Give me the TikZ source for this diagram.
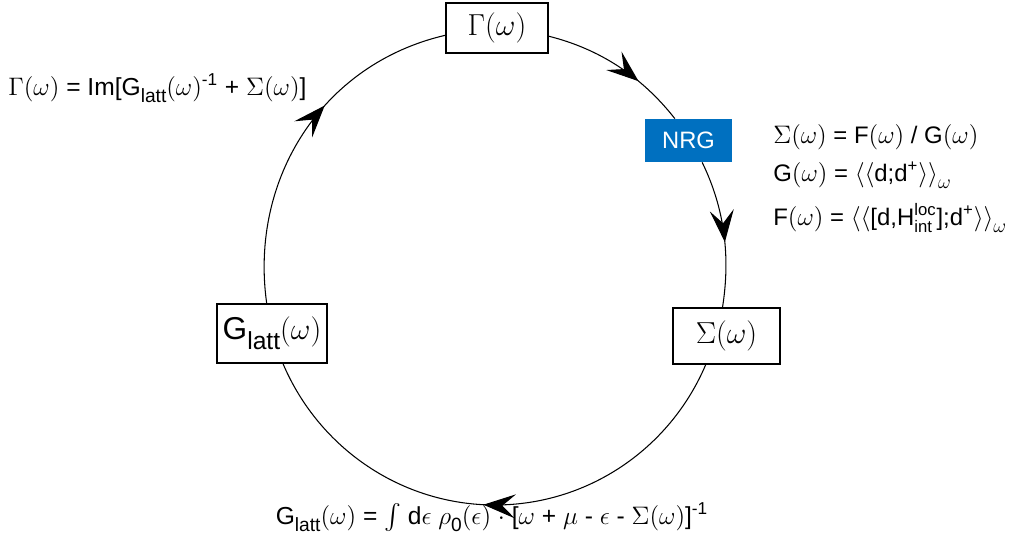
\documentclass[tikz,border=0pt]{standalone}
\usepackage{amsmath}
\usepackage{graphicx}
\usepackage{fontspec}
\setmainfont{Liberation Sans}
\usetikzlibrary{arrows.meta, decorations.markings}
\usepackage{xcolor}
\definecolor{nrgblue}{HTML}{0070C0}
\newcommand{\om}{$(\omega)$}
\newcommand{\lowsub}[1]{\raisebox{-0.32em}{\scalebox{0.78}{#1}}}
\newcommand{\Glatt}{G\lowsub{latt}}

\begin{document}
\begin{tikzpicture}[
      x=0.02cm, y=-0.02cm,
      box/.style={draw, fill=white, line width=0.6pt, inner sep=0pt, font=\fontsize{18}{22}\selectfont},
      eq/.style={inner sep=0pt, font=\fontsize{14}{17}\selectfont},
      flow/.style={line width=0.6pt, postaction={decorate},
        decoration={markings, mark=at position #1 with {\arrow{Stealth[length=6.4mm, width=4.8mm, inset=2.6mm]}}}}
    ]
    \useasboundingbox (0,0) rectangle (1010,551);
    % the four stations of the loop
    \node[box, minimum width=20.4mm, minimum height=10mm] (gamma) at (497,28) {$\Gamma(\omega)$};
    \node[box, minimum width=21.4mm, minimum height=11.2mm] (sigma) at (726.5,336) {$\Sigma(\omega)$};
    \node[box, minimum width=22mm, minimum height=11.8mm] (glatt) at (272,333.5) {\Glatt\om};
    \node[fill=nrgblue, text=white, inner sep=0pt, minimum width=17.4mm, minimum height=8.6mm,
      font=\fontsize{13.5}{16}\selectfont] (nrg) at (688.5,140.5) {NRG};
    \coordinate (bot) at (495,505);
    % the loop
    \draw[flow=0.66] (gamma.-9) to[out=-14, in=128, looseness=0.9] (nrg.122);
    \draw[flow=0.56] (nrg.-58) to[out=-64, in=81, looseness=0.9] (sigma.98);
    \draw[flow=0.52] (sigma.-126) to[out=-113, in=0, looseness=0.93] (bot)
      to[out=180, in=-67, looseness=0.93] (glatt.-70);
    \draw[flow=0.6] (glatt.100) to[out=98, in=-167] (gamma.188);
    % equations
    \node[eq, anchor=base west] (eqgamma) at (8,95)
      {$\Gamma(\omega)$ = Im[\Glatt\om\textsuperscript{-1} + $\Sigma(\omega)$]};
    \node[eq, anchor=base west, font=\fontsize{13.6}{16}\selectfont] (eqsigma) at (773,143)
      {$\Sigma(\omega)$ = F\om{} / G\om};
    \node[eq, anchor=base west, font=\fontsize{13.6}{16}\selectfont] (eqg) at (773,181)
      {G\om{} = $\langle\langle$d;d\textsuperscript{+}$\rangle\rangle$\lowsub{$\omega$}};
    \node[eq, anchor=base west, font=\fontsize{13.6}{16}\selectfont] (eqf) at (773,225)
      {F\om{} = $\langle\langle$[d,H$^{\text{loc}}_{\text{int}}$];d\textsuperscript{+}$\rangle\rangle$\lowsub{$\omega$}};
    \node[eq, anchor=base] (eqglatt) at (492,524)
      {\Glatt\om{} = $\int$ d$\epsilon$ $\rho$\lowsub{0}$(\epsilon)$ $\cdot$ [$\omega$ + $\mu$ - $\epsilon$ - $\Sigma(\omega)$]\textsuperscript{-1}};
  \end{tikzpicture}
\end{document}
